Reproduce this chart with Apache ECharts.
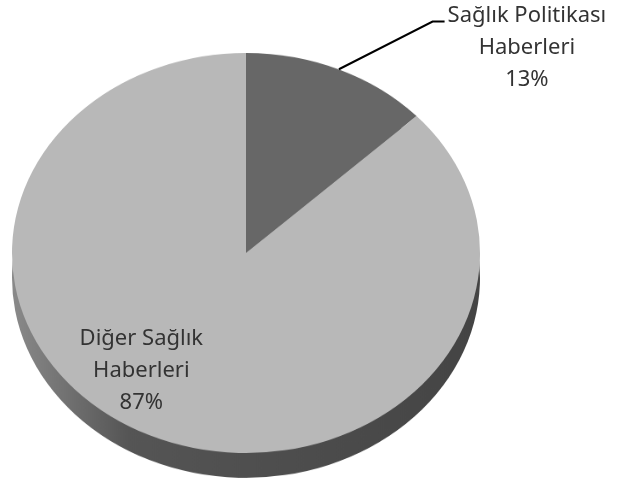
<!DOCTYPE html>
<html>
<head>
<meta charset="utf-8">
<script src="https://cdn.jsdelivr.net/npm/echarts@6/dist/echarts.min.js"></script>
<style>
    html, body { margin: 0; padding: 0; background: #fff; }
    #wrap { position: relative; width: 617px; height: 486px; overflow: hidden; }
    /* pie drawn as a circle, then squashed into the tilted ellipse */
    #pie { position: absolute; left: 0; top: 0; width: 617px; height: 568px; transform: scaleY(0.8547); transform-origin: 0 0; }
    #lab { position: absolute; left: 0; top: 0; width: 617px; height: 486px; }
</style>
</head>
<body>
<div id="wrap"><div id="pie"></div><div id="lab"></div></div>
<script>
var names = ['Sağlık Politikası\nHaberleri', 'Diğer Sağlık\nHaberleri'];
var values = [13, 87];
var faceColors = ['#676767', '#b8b8b8'];

var data = names.map(function (n, i) { return { name: n, value: values[i] }; });

// 饼图本体（压扁成椭圆）
var pieChart = echarts.init(document.getElementById('pie'));
var rimColor = new echarts.graphic.LinearGradient(0, 0, 1, 0, [
    { offset: 0, color: '#8a8a8a' },
    { offset: 0.25, color: '#555555' },
    { offset: 1, color: '#444444' }
]);
pieChart.setOption({
    animation: false,
    series: [
        {   // 侧面厚度
            type: 'pie',
            center: [246, 325],
            radius: 234,
            startAngle: 90,
            silent: true,
            label: { show: false },
            labelLine: { show: false },
            itemStyle: { color: rimColor, borderWidth: 0 },
            data: data
        },
        {   // 顶面
            type: 'pie',
            center: [246, 296],
            radius: 234,
            startAngle: 90,
            silent: true,
            label: { show: false },
            labelLine: { show: false },
            itemStyle: {
                color: function (p) { return faceColors[p.dataIndex]; },
                borderWidth: 0
            },
            data: data
        }
    ]
});

// 标签层（不压扁，文字保持原样）
var labChart = echarts.init(document.getElementById('lab'));
var labData = data.map(function (d, i) {
    var item = { name: d.name, value: d.value };
    if (i === 1) {
        item.label = { position: 'inside', offset: [-57, -23] };
    }
    return item;
});
labChart.setOption({
    animation: false,
    series: [{
        type: 'pie',
        center: [246, 284],
        radius: 234,
        startAngle: 90,
        silent: true,
        itemStyle: { color: 'rgba(0,0,0,0)', borderWidth: 0 },
        label: {
            show: true,
            position: 'outside',
            bleedMargin: 0,
            distanceToLabelLine: 3,
            color: '#333',
            textBorderWidth: 0,
            fontFamily: 'Noto Sans',
            fontSize: 22,
            lineHeight: 32,
            formatter: function (p) {
                var lines = p.name.split('\n').concat([Math.round(p.percent) + '%']);
                return lines.map(function (s) { return '{c|' + s + '}'; }).join('\n');
            },
            rich: {
                c: { align: 'center', color: '#333', fontFamily: 'Noto Sans', fontSize: 22, lineHeight: 32 }
            }
        },
        labelLine: {
            show: true,
            length: 52,
            length2: 85,
            lineStyle: { color: '#000', width: 2 }
        },
        labelLayout: function (p) {
            var pts = p.labelLinePoints;
            if (!pts) return {};
            return {
                verticalAlign: 'top',
                dy: -22,
                labelLinePoints: [pts[0], [pts[2][0] - 12, pts[2][1]], pts[2]]
            };
        },
        data: labData
    }]
});
</script>
</body>
</html>
